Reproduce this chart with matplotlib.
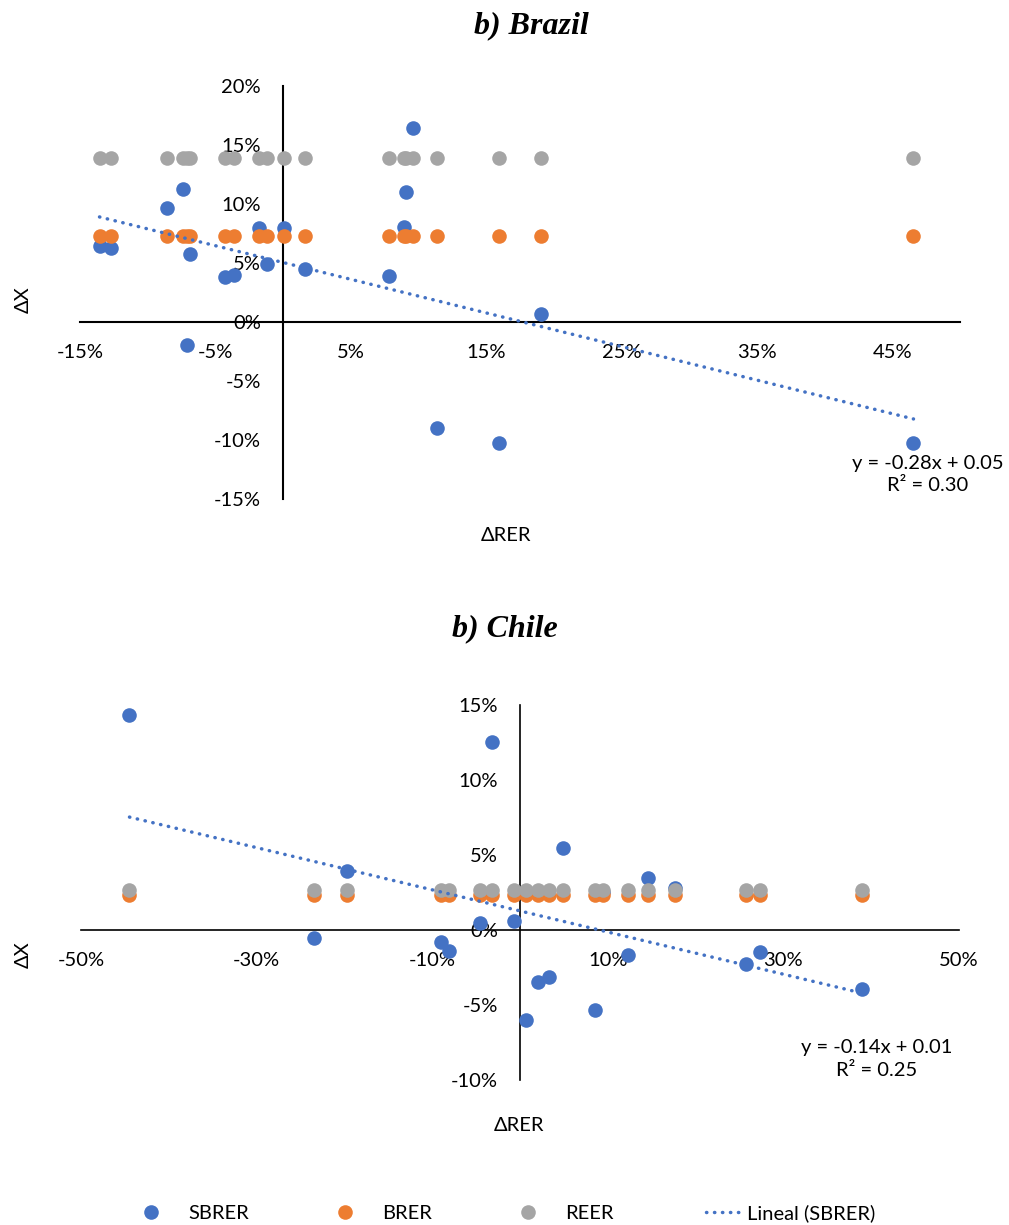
import matplotlib
matplotlib.use("Agg")
import matplotlib.pyplot as plt
from matplotlib.lines import Line2D
from matplotlib.legend_handler import HandlerLine2D
from matplotlib.ticker import FixedLocator, PercentFormatter
import numpy as np

plt.rcParams['font.family'] = ['Lato', 'DejaVu Sans']
plt.rcParams['axes.unicode_minus'] = False

BLUE = '#4472C4'
ORANGE = '#ED7D31'
GRAY = '#A5A5A5'

# Brazil: x = change in RER, y = change in exports
brazil_x = [-0.1356, -0.1269, -0.0858, -0.0742, -0.0710, -0.0690, -0.0430, -0.0366,
            -0.0178, -0.0122, 0.0003, 0.0160, 0.0784, 0.0895, 0.0905, 0.0963,
            0.1134, 0.1597, 0.1908, 0.4656]
brazil_sbrer = [0.0644, 0.0624, 0.0966, 0.1126, -0.0196, 0.0576, 0.0379, 0.0400,
                0.0800, 0.0492, 0.0800, 0.0446, 0.0391, 0.0808, 0.1103, 0.1640,
                -0.0896, -0.1023, 0.0065, -0.1023]
brazil_brer = [0.0731, 0.0731, 0.0731, 0.0731, 0.0731, 0.0731, 0.0731, 0.0731,
               0.0731, 0.0731, 0.0731, 0.0731, 0.0731, 0.0731, 0.0731, 0.0731,
               0.0731, 0.0731, 0.0731, 0.0731]
brazil_reer = [0.1387, 0.1387, 0.1387, 0.1387, 0.1387, 0.1387, 0.1387, 0.1387,
               0.1387, 0.1387, 0.1387, 0.1387, 0.1387, 0.1387, 0.1387, 0.1387,
               0.1387, 0.1387, 0.1387, 0.1387]
brazil_fit = (-0.2848, 0.0504)
brazil_fit_label = 'y = -0.28x + 0.05\nR² = 0.30'

# Chile
chile_x = [-0.4450, -0.2350, -0.1970, -0.0900, -0.0810, -0.0450, -0.0320, -0.0070,
           0.0069, 0.0210, 0.0333, 0.0492, 0.0850, 0.0950, 0.1235, 0.1455,
           0.1771, 0.2570, 0.2730, 0.3895]
chile_sbrer = [0.1431, -0.0056, 0.0396, -0.0081, -0.0138, 0.0048, 0.1251, 0.0062,
               -0.0598, -0.0344, -0.0316, 0.0549, -0.0533, 0.0250, -0.0167, 0.0347,
               0.0278, -0.0228, -0.0150, -0.0396]
chile_brer = [0.0233, 0.0233, 0.0233, 0.0233, 0.0233, 0.0233, 0.0233, 0.0233,
              0.0233, 0.0233, 0.0233, 0.0233, 0.0233, 0.0233, 0.0233, 0.0233,
              0.0233, 0.0233, 0.0233, 0.0233]
chile_reer = [0.0267, 0.0267, 0.0267, 0.0267, 0.0267, 0.0267, 0.0267, 0.0267,
              0.0267, 0.0267, 0.0267, 0.0267, 0.0267, 0.0267, 0.0267, 0.0267,
              0.0267, 0.0267, 0.0267, 0.0267]
chile_fit = (-0.1406, 0.0127)
chile_fit_label = 'y = -0.14x + 0.01\nR² = 0.25'

brazil_xticks = [-0.15, -0.05, 0.05, 0.15, 0.25, 0.35, 0.45]
brazil_yticks = [-0.15, -0.10, -0.05, 0.0, 0.05, 0.10, 0.15, 0.20]
chile_xticks = [-0.5, -0.3, -0.1, 0.1, 0.3, 0.5]
chile_yticks = [-0.10, -0.05, 0.0, 0.05, 0.10, 0.15]

FS = 14.5
TREND_LW = 2.5
DOTS = (0, (0.1, 2.2))


class LeftMarker(HandlerLine2D):
    # put the marker at the start of the handle, like the Excel legend
    def get_xdata(self, legend, xdescent, ydescent, width, height, fontsize):
        m = -xdescent + 0.08 * width
        return np.array([m - 1.0, m + 1.0]), np.array([m])


def draw_panel(ax, x, sbrer, brer, reer, fit, fit_label, xlim, ylim, xticks, yticks,
               lw, label_pos):
    ax.scatter(x, sbrer, s=110, color=BLUE, linewidths=0, zorder=3)
    ax.scatter(x, brer, s=110, color=ORANGE, linewidths=0, zorder=4)
    ax.scatter(x, reer, s=110, color=GRAY, linewidths=0, zorder=5)

    xs = np.array([min(x), max(x)])
    ax.plot(xs, fit[0] * xs + fit[1], color=BLUE, lw=TREND_LW, linestyle=DOTS,
            dash_capstyle='round', zorder=6)

    ax.set_xlim(xlim)
    ax.set_ylim(ylim)
    for s in ['top', 'right']:
        ax.spines[s].set_visible(False)
    ax.spines['left'].set_position(('data', 0))
    ax.spines['bottom'].set_position(('data', 0))
    for s in ['left', 'bottom']:
        ax.spines[s].set_linewidth(lw)
        ax.spines[s].set_zorder(2)
    ax.xaxis.set_major_locator(FixedLocator(xticks))
    ax.yaxis.set_major_locator(FixedLocator(yticks))
    ax.xaxis.set_major_formatter(PercentFormatter(1.0, decimals=0))
    ax.yaxis.set_major_formatter(PercentFormatter(1.0, decimals=0))
    ax.tick_params(length=0, pad=16, labelsize=FS)
    ax.patch.set_visible(False)

    ax.set_xlabel('ΔRER', fontsize=FS)
    ax.set_ylabel('ΔX', fontsize=FS)
    ax.xaxis.set_label_coords(*label_pos[0])
    ax.yaxis.set_label_coords(*label_pos[1])

    ax.text(label_pos[2][0], label_pos[2][1], fit_label, transform=ax.transAxes,
            ha='center', va='center', multialignment='center', linespacing=1.4,
            fontsize=FS)


fig = plt.figure(figsize=(10.09, 12.25), dpi=100)
ax1 = fig.add_axes([0.0793, 0.5927, 0.8722, 0.3371])
ax2 = fig.add_axes([0.0805, 0.1184, 0.8697, 0.3061])

draw_panel(ax1, brazil_x, brazil_sbrer, brazil_brer, brazil_reer, brazil_fit,
           brazil_fit_label, (-0.15, 0.50), (-0.15, 0.20), brazil_xticks, brazil_yticks,
           1.5, [(0.484, -0.068), (-0.0545, 0.482), (0.963, 0.059)])
draw_panel(ax2, chile_x, chile_sbrer, chile_brer, chile_reer, chile_fit,
           chile_fit_label, (-0.5, 0.5), (-0.10, 0.15), chile_xticks, chile_yticks,
           1.2, [(0.499, -0.099), (-0.056, 0.333), (0.906, 0.056)])

title_kw = dict(family=['Liberation Serif', 'DejaVu Serif'], weight='bold', style='italic',
                fontsize=23, ha='center', va='baseline')
fig.text(0.527, 1 - 33 / 1225, 'b) Brazil', **title_kw)
fig.text(0.500, 1 - 636 / 1225, 'b) Chile', **title_kw)

marker_kw = dict(marker='o', ls='none', markersize=10.5, markeredgewidth=0)
handles = [
    Line2D([], [], color=BLUE, **marker_kw),
    Line2D([], [], color=ORANGE, **marker_kw),
    Line2D([], [], color=GRAY, **marker_kw),
    Line2D([], [], color=BLUE, lw=TREND_LW, linestyle=DOTS, dash_capstyle='round'),
]
labels = ['SBRER', 'BRER', 'REER', 'Lineal (SBRER)']
hmap = {h: LeftMarker() for h in handles[:3]}
fig.legend(handles, labels, handler_map=hmap, loc='center',
           bbox_to_anchor=(0.507, 0.0098), ncol=4, frameon=False,
           handlelength=1.7, handletextpad=0.3, columnspacing=4.6, fontsize=FS)

fig.savefig('out.png', dpi=100)
